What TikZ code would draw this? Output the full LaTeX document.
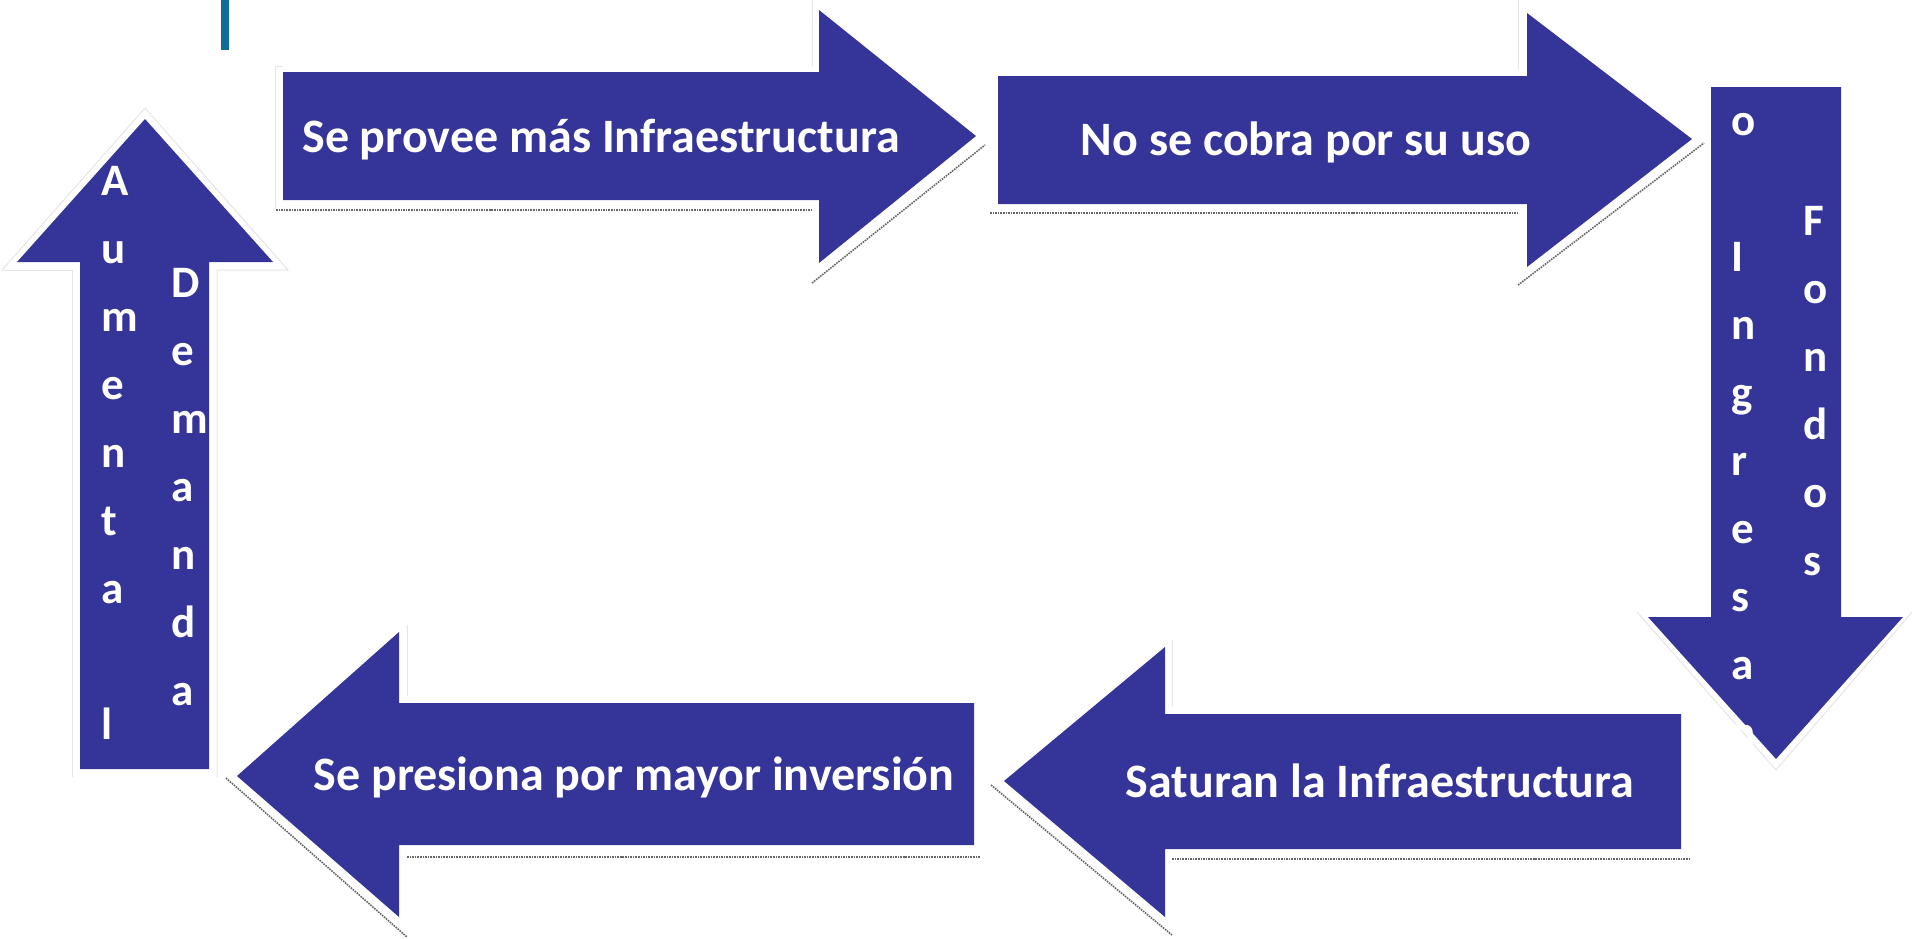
\documentclass[tikz,border=0pt]{standalone}
\usepackage{fontspec}
\setmainfont{Carlito}
\usepackage{xcolor}
\definecolor{flowblue}{RGB}{52,52,153}
\definecolor{tabteal}{RGB}{18,106,152}

\begin{document}
\begin{tikzpicture}[
x=1bp, y=-1bp,
blockarrow/.style={fill=flowblue},
lbl/.style={text=white, font=\bfseries\fontsize{48bp}{58bp}\selectfont, anchor=base, inner sep=0pt},
vletter/.style={lbl, font=\bfseries\fontsize{45bp}{54bp}\selectfont, anchor=base west},
rim/.style={draw=black!60, densely dotted, line width=1.6bp},
glow/.style={draw=black!10, line width=1bp},
]
\useasboundingbox (0,0) rectangle (1916,939);
% tab mark
\fill[tabteal] (221,0) rectangle (229,50);

% faint outlines
\draw[glow] (2,270) -- (145,108) -- (288,270) -- (217,270) -- (217,777);
\draw[glow] (72,777) -- (72,270) -- (2,270);
\draw[glow] (275,210) -- (275,66) -- (283,66);
\draw[glow] (812,66) -- (812,0);
\draw[glow] (1518,70) -- (1518,0);
\draw[glow] (1637,612) -- (1776,770) -- (1912,612);
\draw[glow] (1172,706) -- (1172,640);
\draw[glow] (407,696) -- (407,625);

% arrows
\fill[blockarrow] (80,769) -- (80,262) -- (17,262) -- (145,119) -- (273,262) -- (209,262) -- (209,769) -- cycle;
\fill[blockarrow] (283,72) -- (819,72) -- (819,10) -- (976,136) -- (819,263) -- (819,200) -- (283,200) -- cycle;
\fill[blockarrow] (998,76) -- (1527,76) -- (1527,13) -- (1692,139) -- (1527,267) -- (1527,204) -- (998,204) -- cycle;
\fill[blockarrow] (1711,87) -- (1841,87) -- (1841,617) -- (1903,617) -- (1776,759) -- (1648,617) -- (1711,617) -- cycle;
\fill[blockarrow] (1681,714) -- (1165,714) -- (1165,647) -- (1004,781) -- (1165,917) -- (1165,849) -- (1681,849) -- cycle;
\fill[blockarrow] (974,703) -- (399,703) -- (399,632) -- (237,776) -- (399,917) -- (399,845) -- (974,845) -- cycle;

% shadow rims
\draw[rim] (276,210) -- (812,210);
\draw[rim] (812,283) -- (985,145);
\draw[rim] (990,213) -- (1518,213);
\draw[rim] (1518,285) -- (1704,143);
\draw[rim] (1172,859) -- (1689,859);
\draw[rim] (991,785) -- (1172,935);
\draw[rim] (407,857) -- (980,857);
\draw[rim] (226,778) -- (407,937);

% labels
\node[lbl] (P) at (601,152) {Se provee más Infraestructura};
\node[lbl] (C) at (1306,155) {No se cobra por su uso};
\node[lbl] (S) at (1380,797) {Saturan la Infraestructura};
\node[lbl] (I) at (634,790) {Se presiona por mayor inversión};

% vertical letters
\foreach \c [count=\i from 0] in {A,u,m,e,n,t,a,{},l,a}
  \node[vletter] (A\i) at (101,195+68*\i) {\c};
\foreach \c [count=\i from 0] in {D,e,m,a,n,d,a}
  \node[vletter] (D\i) at (171,297+68*\i) {\c};
\foreach \c [count=\i from 0] in {N,o,{},I,n,g,r,e,s,a,n}
  \node[vletter] (N\i) at (1731,67+68*\i) {\c};
\foreach \c [count=\i from 0] in {F,o,n,d,o,s}
  \node[vletter] (F\i) at (1803,235+68*\i) {\c};
\end{tikzpicture}
\end{document}
